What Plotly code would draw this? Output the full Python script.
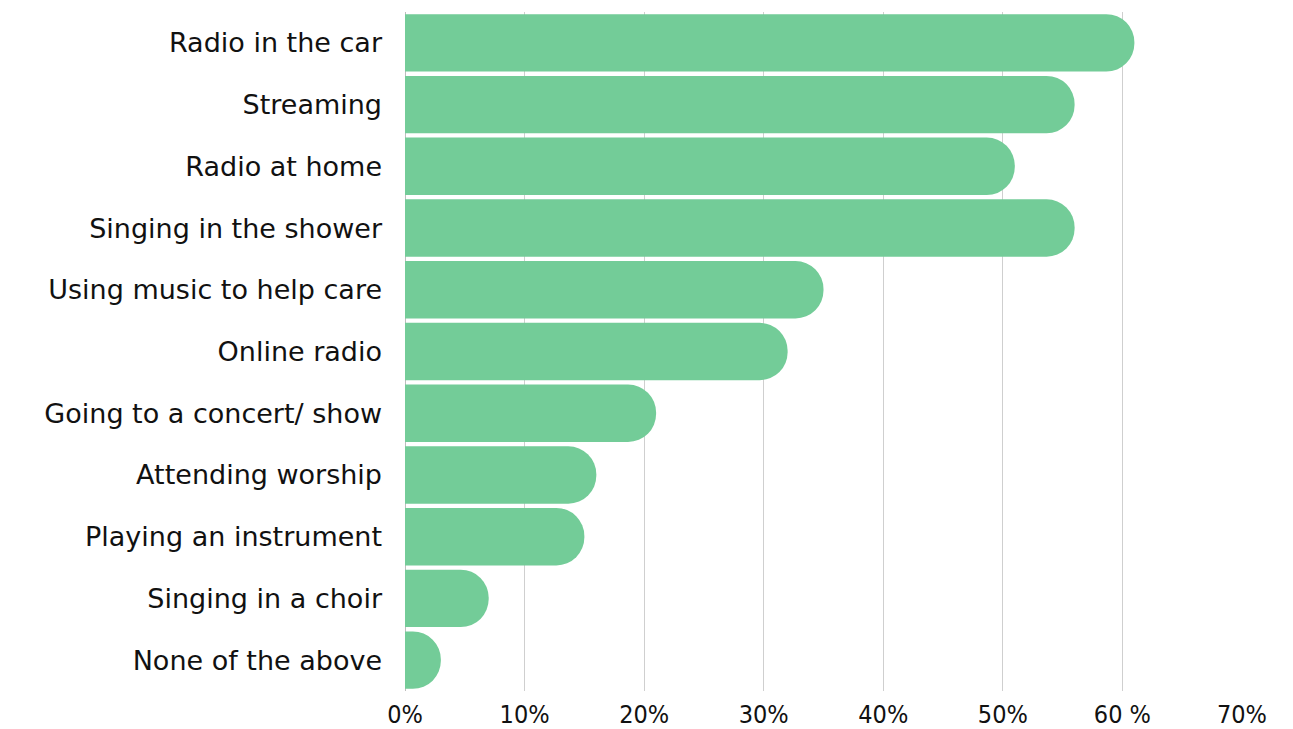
import plotly.graph_objects as go

categories = ["Radio in the car", "Streaming", "Radio at home", "Singing in the shower",
              "Using music to help care", "Online radio", "Going to a concert/ show",
              "Attending worship", "Playing an instrument", "Singing in a choir",
              "None of the above"]
values = [61, 56, 51, 56, 35, 32, 21, 16, 15, 7, 3]
tick_vals = [0, 10, 20, 30, 40, 50, 60, 70]
tick_text = ["0%", "10%", "20%", "30%", "40%", "50%", "60 %", "70%"]

fig = go.Figure(go.Bar(
    y=categories, x=values, orientation="h",
    marker=dict(color="#73CC98", cornerradius="50%", line=dict(width=0)),
    hoverinfo="skip",
))

fig.update_layout(
    width=1293, height=729,
    margin=dict(l=405, r=51, t=12, b=38, autoexpand=False),
    paper_bgcolor="white", plot_bgcolor="white",
    bargap=0.07,
    showlegend=False,
    font=dict(family="DejaVu Sans", color="#111111"),
)
fig.update_yaxes(
    autorange="reversed", tickfont=dict(size=27, family="DejaVu Sans", color="#111"),
    ticklabelstandoff=22, showgrid=False, showline=False, automargin=False,
)
fig.update_xaxes(
    range=[0, 70], tickvals=tick_vals, ticktext=tick_text,
    tickfont=dict(size=25, family="DejaVu Sans Condensed", color="#111"),
    showgrid=True, gridcolor="#cfcfcf", gridwidth=1,
    zeroline=True, zerolinecolor="#bdbdbd", zerolinewidth=1,
    showline=False, ticks="", ticklabelstandoff=6, automargin=False,
)

fig.write_html("out.html")
